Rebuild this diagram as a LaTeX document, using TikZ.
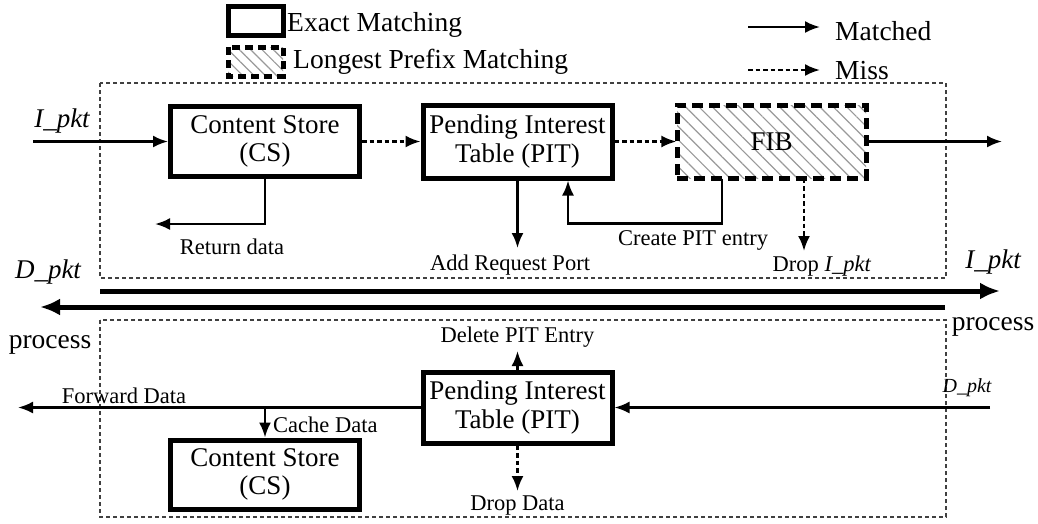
\documentclass[tikz,border=0pt]{standalone}
\usepackage{fontspec}
\setmainfont{Liberation Serif}
\usetikzlibrary{arrows.meta,patterns.meta}
\begin{document}
\begin{tikzpicture}[x=1pt,y=-1pt,
  blk/.style={draw=black,line width=5pt,fill=white,minimum width=189pt,minimum height=70pt,inner sep=0pt,
              font=\fontsize{27}{28.5}\selectfont,align=center},
  lpm/.style={blk,dash pattern=on 11pt off 6pt,
              pattern={Lines[angle=-45,distance=9.5pt,line width=1.2pt]},pattern color=gray!80},
  frame/.style={draw=black!75,line width=1.7pt,dash pattern=on 4pt off 3pt},
  arr/.style={line width=2.4pt,-{Latex[length=15pt,width=12pt]}},
  miss/.style={arr,dash pattern=on 4.5pt off 3pt},
  bus/.style={line width=5pt,-{Latex[length=20pt,width=17pt]}},
  lbl/.style={inner sep=0pt,font=\fontsize{22.5}{24}\selectfont},
  big/.style={inner sep=0pt,font=\fontsize{27.5}{29}\selectfont}]
\useasboundingbox (0,0) rectangle (1038,523);

% legend
\draw[line width=5pt] (228,6) rectangle (283,35);
\node[big,anchor=west] (lexact) at (287,25) {Exact Matching};
\draw[line width=5pt,dash pattern=on 8pt off 5pt,
      pattern={Lines[angle=-45,distance=8pt,line width=1.2pt]},pattern color=gray!80] (228,47) rectangle (283,76);
\node[big,anchor=west] (llpm) at (293,62) {Longest Prefix Matching};
\coordinate (m1) at (748,27); \coordinate (m2) at (820,27);
\draw[arr] (m1) -- (m2);
\node[big,anchor=west] (lmatched) at (835,31) {Matched};
\coordinate (s1) at (748,70); \coordinate (s2) at (820,70);
\draw[miss] (s1) -- (s2);
\node[big,anchor=west] (lmiss) at (835,71) {Miss};

% dashed frames of the two pipelines
\draw[frame] (100,83) rectangle (946,278);
\draw[frame] (100,320) rectangle (946,517);

% Interest pipeline
\node[blk] (cs) at (265,141.5) {Content Store\\(CS)};
\node[blk,minimum height=73pt] (pit) at (517.5,141.5) {Pending Interest\\Table (PIT)};
\node[lpm,minimum height=73pt] (fib) at (771.5,141.5) {FIB};

\coordinate (iin) at (33,141.5);
\coordinate (iout) at (1002,141.5);
\draw[arr] (iin) -- (cs.west);
\draw[miss] (cs.east) -- (pit.west);
\draw[miss] (pit.east) -- (fib.west);
\draw[arr] (fib.east) -- (iout);
\node[big,font=\fontsize{27}{28}\selectfont\itshape] (lin) at (62,121) {I\_pkt};

\coordinate (rdata) at (155,224);
\draw[arr] (cs.south) |- (rdata);
\node[lbl] (lrdata) at (232,247) {Return data};

\coordinate (areq) at (517.5,248);
\draw[arr] (pit.south) -- (areq);
\node[lbl] (lareq) at (510,265) {Add Request Port};

\draw[arr] ([xshift=-49.5pt]fib.south) -- ++(0,45) -| ([xshift=50.5pt]pit.south);
\node[lbl] (lcreate) at (693,240) {Create PIT entry};

\coordinate (dropi) at (804,251);
\draw[miss] (fib.south -| dropi) -- (dropi);
\node[lbl] (ldropi) at (822,266) {Drop \textit{I\_pkt}};

% packet buses between the pipelines
\coordinate (ua) at (100,291); \coordinate (ub) at (1000,291);
\coordinate (la) at (945,307); \coordinate (lb) at (40,307);
\draw[bus] (ua) -- (ub);
\draw[bus] (la) -- (lb);
\node[big,font=\fontsize{27}{28}\selectfont\itshape] (ldpkt) at (48,272) {D\_pkt};
\node[big,font=\fontsize{27}{28}\selectfont\itshape] (lipkt) at (993,262) {I\_pkt};
\node[big] (lproc1) at (50,345) {process};
\node[big] (lproc2) at (993,327) {process};

% Data pipeline
\node[blk,minimum height=71pt] (pitb) at (517.5,407.5) {Pending Interest\\Table (PIT)};
\node[blk,minimum height=69pt] (csb) at (265,474.5) {Content Store\\(CS)};

\coordinate (din) at (990,407.5);
\draw[arr] (din) -- (pitb.east);
\node[lbl,font=\fontsize{20}{22}\selectfont\itshape] (ldin) at (967,388) {D\_pkt};

\coordinate (fwd) at (18,407.5);
\draw[arr] (pitb.west) -- (fwd);
\node[lbl] (lfwd) at (124,396) {Forward Data};

\draw[arr] (csb.north |- pitb.west) -- (csb.north);
\node[lbl,anchor=west] (lcache) at (273,425) {Cache Data};

\coordinate (del) at (517.5,351);
\draw[arr] (pitb.north) -- (del);
\node[lbl] (ldel) at (517.5,337) {Delete PIT Entry};

\coordinate (dd) at (517.5,491);
\draw[miss] (pitb.south) -- (dd);
\node[lbl] (ldd) at (517.5,506) {Drop Data};
\end{tikzpicture}
\end{document}
